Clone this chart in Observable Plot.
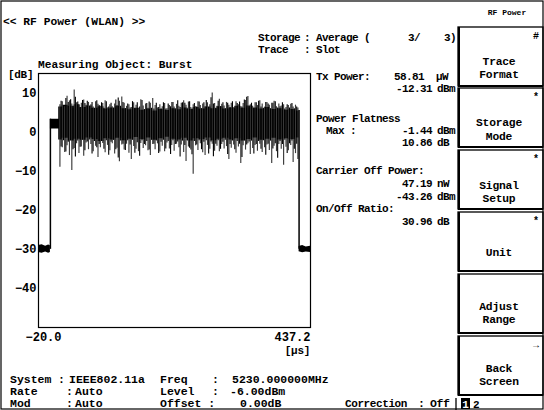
<!DOCTYPE html>
<html><head><meta charset="utf-8">
<script src="https://cdn.jsdelivr.net/npm/d3@7"></script>
<script src="https://cdn.jsdelivr.net/npm/@observablehq/plot@0.6"></script>
<style>
body{margin:0;background:#fff;}
#chart{position:relative;width:544px;height:410px;overflow:hidden;}
</style></head><body><div id="chart"></div>
<script>
// ---- trace data (dB vs µs) ----
const sampleTimes = [16,20,24,28,32,36,40,44,48,52,56,60,64,68,72,76,80,84,88,92,96,100,104,108,112,116,120,124,128,132,136,140,144,148,152,156,160,164,168,172,176,180,184,188,192,196,200,204,208,212,216,220,224,228,232,236,240,244,248,252,256,260,264,268,272,276,280,284,288,292,296,300,304,308,312,316,320,324,328,332,336,340,344,348,352,356,360,364,368,372,376,380,384,388,392,396,400,404,408,412,416];
const spikeHigh = [7.0,7.8,6.5,9.2,8.0,7.2,10.8,7.5,6.8,7.4,8.2,6.9,7.6,7.0,6.4,7.8,7.1,6.6,7.3,8.0,6.2,7.0,6.5,7.2,6.8,7.9,9.0,7.4,6.6,7.0,6.3,7.5,6.9,6.0,8.3,6.7,7.2,6.1,7.4,8.6,6.8,6.2,7.0,6.5,7.3,6.0,6.8,7.6,6.4,7.1,6.6,7.4,8.0,6.9,7.7,6.3,7.0,6.5,7.8,6.8,7.2,6.4,7.5,7.0,10.0,7.3,6.6,8.4,7.1,6.7,7.6,6.9,7.4,6.2,7.8,7.0,6.5,7.3,8.1,9.1,7.0,6.6,7.5,6.8,8.0,7.2,6.4,7.6,6.9,7.4,7.9,6.5,7.2,6.7,7.0,6.3,6.8,7.1,6.4,6.9,6.2];
const spikeLow = [-9.0,-4.0,-5.2,-3.5,-6.0,-9.8,-4.2,-3.0,-5.5,-3.8,-6.2,-2.8,-4.5,-3.2,-5.0,-3.6,-6.5,-4.0,-2.9,-5.3,-3.4,-4.8,-3.0,-5.6,-4.1,-7.6,-3.3,-4.6,-3.1,-5.4,-7.0,-3.7,-4.4,-5.0,-2.9,-4.2,-3.5,-4.8,-6.0,-3.2,-4.5,-3.0,-5.1,-3.6,-5.0,-2.8,-4.3,-3.4,-4.9,-3.1,-4.0,-3.3,-5.2,-7.5,-3.8,-4.6,-10.8,-3.5,-4.7,-3.0,-5.3,-6.0,-3.4,-4.4,-3.1,-4.9,-3.6,-5.0,-3.2,-4.3,-3.7,-7.0,-4.1,-3.3,-5.4,-3.8,-8.0,-3.5,-4.6,-3.0,-5.7,-4.2,-3.4,-4.9,-3.1,-5.2,-4.0,-3.3,-4.7,-8.0,-3.6,-5.0,-3.2,-4.4,-8.5,-3.9,-4.8,-3.4,-7.8,-5.5,-7.0];
const midTimes = [18,22,26,30,34,38,42,46,50,54,58,62,66,70,74,78,82,86,90,94,98,102,106,110,114,118,122,126,130,134,138,142,146,150,154,158,162,166,170,174,178,182,186,190,194,198,202,206,210,214,218,222,226,230,234,238,242,246,250,254,258,262,266,270,274,278,282,286,290,294,298,302,306,310,314,318,322,326,330,334,338,342,346,350,354,358,362,366,370,374,378,382,386,390,394,398,402,406,410,414];
const midHigh = [7.9,6.4,8.6,7.6,8.3,6.1,8.9,7.7,6.2,8.1, 7.3,7.9,6.0,7.6,5.9,8.0,6.8,7.5,6.1,7.8, 6.4,7.4,5.8,8.2,8.7,6.3,7.6,6.0,7.2,6.2, 7.8,5.9,7.5,6.4,8.1,5.8,7.3,7.7,6.1,5.9, 7.4,6.3,6.0,7.5,5.9,7.2,6.5,7.6,6.0,8.0, 6.3,7.5,7.4,6.1,7.8,5.9,7.3,6.4,7.7,6.0, 7.5,8.1,6.3,8.8,7.2,6.1,7.9,6.5,7.5,6.0, 7.4,6.3,7.8,5.9,7.3,7.7,6.4,8.2,8.9,6.2, 7.4,6.0,7.5,7.9,6.4,6.1,7.6,7.2,6.0,7.4, 7.8,6.2,6.5,7.5,5.9,7.0,6.2,7.3,6.0,6.4];
const midLow = [-3.8,-2.2,-5.1,-2.6,-2.1,-4.5,-6.4,-2.3,-3.9,-2.0, -4.8,-2.5,-2.0,-5.6,-2.4,-4.0,-3.2,-2.1,-4.4,-2.2, -5.9,-2.6,-2.1,-4.5,-6.6,-2.3,-3.1,-4.7,-2.2,-3.3, -2.1,-5.4,-2.7,-6.2,-2.2,-3.2,-2.4,-4.6,-2.0,-3.1, -2.3,-5.5,-2.6,-2.1,-4.3,-2.4,-5.7,-2.2,-3.2,-2.5, -6.4,-2.3,-3.4,-2.1,-4.1,-5.8,-2.4,-3.3,-2.2,-4.5, -2.6,-2.2,-5.6,-2.5,-6.3,-3.1,-2.2,-4.4,-2.6,-2.1, -5.7,-3.2,-2.3,-4.5,-2.4,-3.1,-6.5,-2.2,-3.3,-2.5, -2.3,-5.6,-3.2,-2.4,-4.4,-2.2,-5.9,-3.1,-2.3,-4.3, -3.0,-6.7,-2.4,-3.2,-2.1,-5.5,-3.0,-2.3,-4.4,-3.1];
const coreTimes = [0,13,15,25,35,45,55,65,75,85,95,105,115,125,135,145,155,165,175,185,195,205,215,225,235,245,255,265,275,285,295,305,315,325,335,345,355,365,375,385,395,405,418];
const coreHigh  = [3.3,3.3, 6.4,6.9,6.6,7.0,6.3,6.7,6.1,6.5,5.9,6.2, 6.6,6.0,5.7,6.1,5.6,5.9,5.4,5.8,5.5,6.0, 5.7,6.2,5.8,6.3,5.9,6.4,6.0,6.5,5.9,6.2, 6.6,6.1,6.7,6.2,5.9,6.3,5.8,6.0,5.6,5.8, 5.4];
const coreLow   = [0.8,0.8, -2.0,-1.6,-2.3,-1.8,-2.1,-1.5,-1.9,-2.4,-1.7,-2.0, -1.6,-2.2,-1.8,-1.4,-1.9,-1.5,-2.1,-1.7,-1.3,-1.8, -2.0,-1.6,-2.3,-1.7,-1.9,-1.5,-2.2,-1.8,-1.6,-2.0, -1.7,-2.3,-1.9,-1.5,-2.1,-1.8,-1.6,-2.0,-1.7,-1.9, -1.5];
const offLeftTimes = [-20,-14,-8,-3,0];
const offLeftHigh  = [-29.0,-28.8,-29.2,-28.9,-29.1];
const offLeftLow   = [-30.8,-31.0,-30.7,-31.0,-30.8];
const offRightTimes = [418,424,430,437.2];
const offRightHigh  = [-29.3,-29.0,-29.4,-29.2];
const offRightLow   = [-30.6,-30.9,-30.7,-30.8];
const edgeTimes = [0,418];
const edgeFrom  = [-30,-30];
const edgeTo    = [3.3,5.5];
const yTicks = [10,0,-10,-20,-30,-40];
const xTicks = [-20,437.2];
const xTickLabels = ["−20.0","437.2"];

const spikes = sampleTimes.map((t,i)=>({t, hi:spikeHigh[i], lo:spikeLow[i]}));
const mids = midTimes.map((t,i)=>({t, hi:midHigh[i], lo:midLow[i]})).filter(d=>d.hi!==undefined && d.lo!==undefined);
const core = coreTimes.map((t,i)=>({t, hi:coreHigh[i], lo:coreLow[i]}));
const offL = offLeftTimes.map((t,i)=>({t, hi:offLeftHigh[i], lo:offLeftLow[i]}));
const offR = offRightTimes.map((t,i)=>({t, hi:offRightHigh[i], lo:offRightLow[i]}));
const edges = edgeTimes.map((t,i)=>({t, from:edgeFrom[i], to:edgeTo[i]}));

const FONT = "'Liberation Mono', monospace";

const plot = Plot.plot({
  width:544, height:410,
  marginLeft:38, marginRight:234, marginTop:73, marginBottom:83,
  x:{domain:[-20,437.2]},
  y:{domain:[-50,15]},
  style:{fontFamily:FONT, fontSize:"12px", fontWeight:"bold", color:"#000", background:"#fff", overflow:"visible"},
  marks:[
    Plot.areaY(core, {x:"t", y1:"lo", y2:"hi", fill:"#000", curve:"step"}),
    Plot.ruleX(spikes, {x:"t", y1:"lo", y2:"hi", stroke:"#3a3a3a", strokeWidth:1.15}),
    Plot.ruleX(mids, {x:"t", y1:"lo", y2:"hi", stroke:"#000", strokeWidth:1.1}),
    Plot.areaY(offL, {x:"t", y1:"lo", y2:"hi", fill:"#000"}),
    Plot.areaY(offR, {x:"t", y1:"lo", y2:"hi", fill:"#000"}),
    Plot.ruleX(edges, {x:"t", y1:"from", y2:"to", stroke:"#000", strokeWidth:1.5}),
    Plot.frame({stroke:"#000", strokeWidth:1.2}),
    Plot.axisY(yTicks, {tickSize:0, tickPadding:2, label:null, fontSize:12}),
    Plot.axisX([xTicks[0]], {tickSize:0, tickPadding:5, label:null, fontSize:12, textAnchor:"start", dx:-13, tickFormat:()=>xTickLabels[0]}),
    Plot.axisX([xTicks[1]], {tickSize:0, tickPadding:5, label:null, fontSize:12, textAnchor:"end", dx:0, tickFormat:()=>xTickLabels[1]})
  ]
});
document.getElementById("chart").appendChild(plot);

// ---- instrument screen furniture ----
const svg = d3.select(plot);
const g = svg.append("g").attr("font-family", FONT).attr("font-weight","bold").attr("fill","#000");
function txt(s, x, y, size=11, anchor="start", ls=-0.6){
  g.append("text").attr("x",x).attr("y",y).attr("font-size",size).attr("text-anchor",anchor)
   .attr("letter-spacing",ls).text(s);
}
// outer border
g.append("rect").attr("x",1).attr("y",1).attr("width",542).attr("height",408).attr("fill","none").attr("stroke","#000").attr("stroke-width",1.2);

// header
txt("<< RF Power (WLAN) >>", 3, 25, 11.3, "start", 0);
txt("RF Power", 507, 15, 8, "middle", 0);
txt("Storage", 258, 41);
txt(": Average (", 304, 41);
txt("3/", 408, 41);
txt("3)", 444, 41);
txt("Trace", 258, 53);
txt(": Slot", 304, 53);
txt("Measuring Object: Burst", 38, 68, 11.2, "start", 0);
txt("[dB]", 8, 78, 11, "start", -0.3);
txt("[µs]", 310, 354, 11, "end", -0.3);

// results panel
const rx = 316, ux = 437, vx = 432;
txt("Tx Power:", rx, 80);
txt("58.81", 424, 80, 11, "end"); txt("µW", 436, 80);
txt("-12.31", vx, 92, 11, "end"); txt("dBm", ux, 92);
txt("Power Flatness", rx, 122);
txt("Max :", 326, 134);
txt("-1.44", vx, 134, 11, "end"); txt("dBm", ux, 134);
txt("10.86", vx, 146, 11, "end"); txt("dB", ux, 146);
txt("Carrier Off Power:", rx, 174);
txt("47.19", vx, 187, 11, "end"); txt("nW", ux, 187);
txt("-43.26", vx, 200, 11, "end"); txt("dBm", ux, 200);
txt("On/Off Ratio:", rx, 212);
txt("30.96", vx, 225, 11, "end"); txt("dB", ux, 225);

// bottom settings
const bs = 11.5, bl = 0;
txt("System", 10, 383, bs, "start", bl); txt(":", 58, 383, bs, "start", bl); txt("IEEE802.11a", 69, 383, bs, "start", bl);
txt("Freq", 160, 383, bs, "start", bl); txt(":", 212, 383, bs, "start", bl); txt("5230.000000MHz", 232, 383, bs, "start", bl);
txt("Rate", 10, 395, bs, "start", bl); txt(":", 66, 395, bs, "start", bl); txt("Auto", 75, 395, bs, "start", bl);
txt("Level", 160, 395, bs, "start", bl); txt(":", 212, 395, bs, "start", bl); txt("-6.00dBm", 230, 395, bs, "start", bl);
txt("Mod", 10, 407, bs, "start", bl); txt(":", 66, 407, bs, "start", bl); txt("Auto", 75, 407, bs, "start", bl);
txt("Offset :", 160, 407, bs, "start", bl); txt("0.00dB", 240, 407, bs, "start", bl);
txt("Correction", 345, 407, 11, "start", -0.4); txt(":", 418, 407, bs, "start", bl); txt("Off", 430, 407, bs, "start", -0.4);

// soft keys
const keys = [
  {top:27, mark:"#", lines:["Trace","Format"], ly:[38,51]},
  {top:88, mark:"*", lines:["Storage","Mode"], ly:[38,52]},
  {top:150, mark:"*", lines:["Signal","Setup"], ly:[39,52]},
  {top:212, mark:"*", lines:["Unit"], ly:[44]},
  {top:274, mark:"", lines:["Adjust","Range"], ly:[36,49]},
  {top:336, mark:"→", lines:["Back","Screen"], ly:[36,49]}
];
keys.forEach(k=>{
  g.append("rect").attr("x",458).attr("y",k.top).attr("width",85).attr("height",59)
    .attr("fill","none").attr("stroke","#000").attr("stroke-width",1.3);
  g.append("line").attr("x1",459).attr("x2",459).attr("y1",k.top).attr("y2",k.top+59).attr("stroke","#000").attr("stroke-width",2);
  g.append("line").attr("x1",458).attr("x2",543).attr("y1",k.top+59).attr("y2",k.top+59).attr("stroke","#000").attr("stroke-width",2);
  if(k.mark) txt(k.mark, 536, k.top+12, 10, "middle", 0);
  k.lines.forEach((s,i)=>txt(s, 499, k.top+k.ly[i], 11.3, "middle", -0.2));
});
// page indicator
g.append("line").attr("x1",456).attr("x2",456).attr("y1",398).attr("y2",410).attr("stroke","#000").attr("stroke-width",1.3);
g.append("rect").attr("x",461).attr("y",398).attr("width",9).attr("height",11).attr("fill","#000");
g.append("text").attr("x",465.5).attr("y",407.5).attr("font-size",11).attr("text-anchor","middle").attr("fill","#fff").text("1");
txt("2", 473, 407.5, 11, "start", 0);
</script></body></html>
